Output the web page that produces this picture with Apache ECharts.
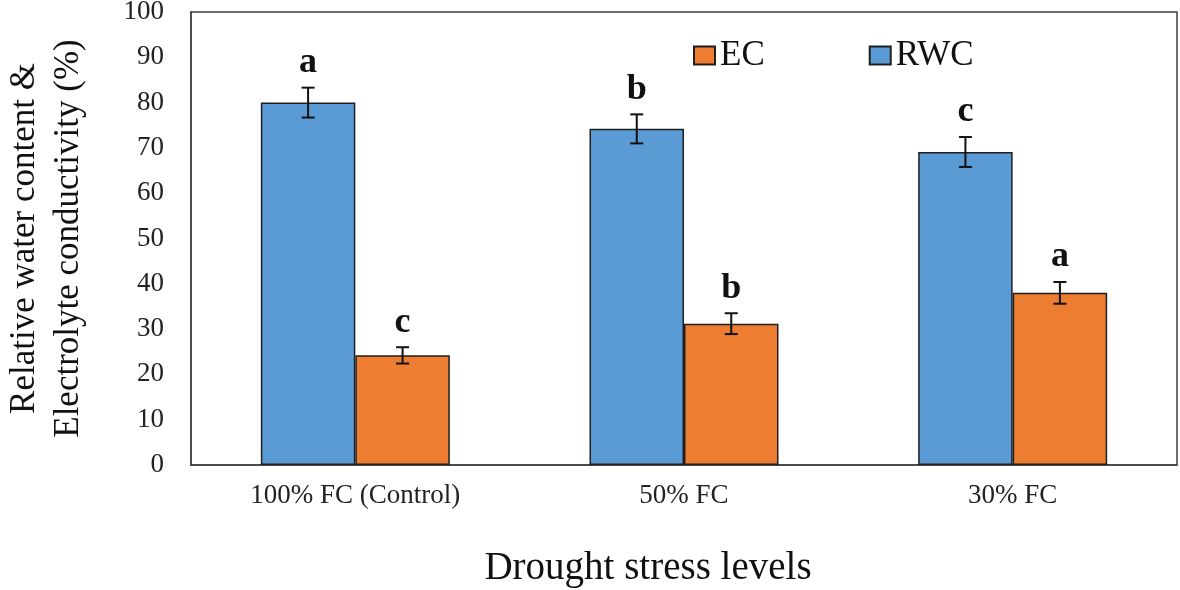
<!DOCTYPE html>
<html>
<head>
<meta charset="utf-8">
<script src="https://cdn.jsdelivr.net/npm/echarts@6/dist/echarts.min.js"></script>
<style>html,body{margin:0;padding:0;background:#fff}#c{width:1180px;height:590px}</style>
</head>
<body>
<div id="c"></div>
<script>
const categories = ['100% FC (Control)', '50% FC', '30% FC'];
const rwcValues = [80.0, 74.2, 69.1];
const rwcErrors = [3.3, 3.2, 3.3];
const rwcLetters = ['a', 'b', 'c'];
const ecValues = [24.2, 31.2, 38.0];
const ecErrors = [1.8, 2.3, 2.4];
const ecLetters = ['c', 'b', 'a'];
const yTicks = {min: 0, max: 100, interval: 10};

const FONT = '"Liberation Serif", "Times New Roman", serif';
const BAR_FRAC = 0.2875;
const BLUE = '#5B9BD5', ORANGE = '#ED7D31', EDGE = '#1e1e1e';

function errSeries(values, errors, letters, side) {
  return {
    type: 'custom',
    z: 10,
    silent: true,
    data: values.map((v, i) => [i, v, errors[i], letters[i]]),
    renderItem: function (params, api) {
      const i = api.value(0), v = api.value(1), e = api.value(2);
      const bw = api.size([1, 0])[0] * BAR_FRAC;
      const cx = api.coord([i, v])[0] + side * bw / 2;
      const yTop = api.coord([i, v + e])[1];
      const yBot = api.coord([i, v - e])[1];
      const cap = 6.5;
      const ls = {stroke: '#111', lineWidth: 2};
      return {
        type: 'group',
        children: [
          {type: 'line', shape: {x1: cx, y1: yTop, x2: cx, y2: yBot}, style: ls},
          {type: 'line', shape: {x1: cx - cap, y1: yTop, x2: cx + cap, y2: yTop}, style: ls},
          {type: 'line', shape: {x1: cx - cap, y1: yBot, x2: cx + cap, y2: yBot}, style: ls},
          {type: 'text', style: {text: letters[i], x: cx, y: yTop - 7, align: 'center', verticalAlign: 'bottom',
            font: 'bold 36px ' + FONT, fill: '#111'}}
        ]
      };
    }
  };
}

const chart = echarts.init(document.getElementById('c'));
chart.setOption({
  animation: false,
  backgroundColor: '#fff',
  grid: {left: 191, right: 3, top: 12, bottom: 125, show: true, borderColor: '#404040', borderWidth: 1.5,
         outerBoundsMode: 'none', containLabel: false},
  legend: {
    data: ['EC', 'RWC'],
    left: 688, top: 33,
    icon: 'rect',
    itemWidth: 21, itemHeight: 18, itemGap: 104,
    textStyle: {fontFamily: FONT, fontSize: 35, color: '#111'}
  },
  xAxis: {
    type: 'category',
    data: categories,
    axisLine: {lineStyle: {color: '#404040', width: 1.5}},
    axisTick: {show: false},
    axisLabel: {fontFamily: FONT, fontSize: 27, color: '#222', margin: 17},
    name: 'Drought stress levels',
    nameLocation: 'middle',
    nameGap: 84,
    nameTextStyle: {fontFamily: FONT, fontSize: 39, color: '#111', padding: [0, 72, 0, 0]}
  },
  yAxis: {
    type: 'value',
    min: yTicks.min, max: yTicks.max, interval: yTicks.interval,
    axisLine: {show: true, lineStyle: {color: '#404040', width: 1.5}},
    axisTick: {show: false},
    splitLine: {show: false},
    axisLabel: {fontFamily: FONT, fontSize: 27, color: '#222', margin: 27},
    name: 'Relative water content &\nElectrolyte conductivity (%)',
    nameLocation: 'middle',
    nameRotate: 90,
    nameGap: 100,
    nameTextStyle: {fontFamily: FONT, fontSize: 35, color: '#111', lineHeight: 44}
  },
  series: [
    {name: 'RWC', type: 'bar', data: rwcValues, barWidth: (BAR_FRAC * 100) + '%', barGap: '0%',
     itemStyle: {color: BLUE, borderColor: EDGE, borderWidth: 1.5}},
    {name: 'EC', type: 'bar', data: ecValues, barWidth: (BAR_FRAC * 100) + '%', barGap: '0%',
     itemStyle: {color: ORANGE, borderColor: EDGE, borderWidth: 1.5}},
    errSeries(rwcValues, rwcErrors, rwcLetters, -1),
    errSeries(ecValues, ecErrors, ecLetters, 1)
  ]
});
</script>
</body>
</html>
